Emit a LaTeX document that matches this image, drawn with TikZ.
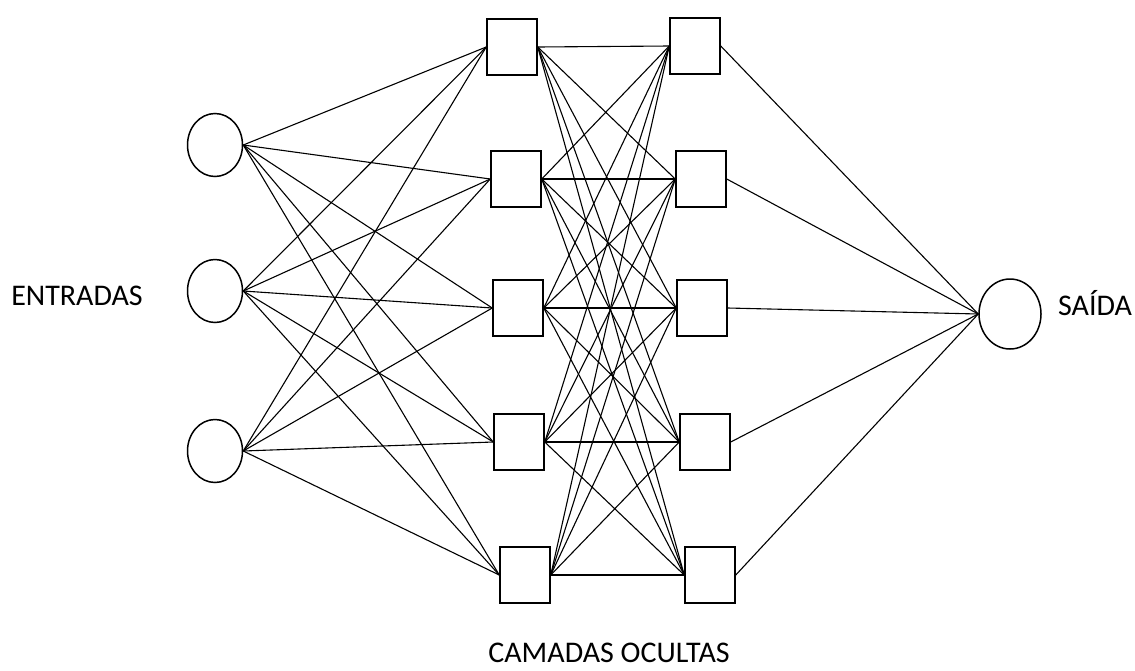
\documentclass[tikz,border=0pt]{standalone}
\usepackage{fontspec}
\setmainfont{Carlito}
\usetikzlibrary{shapes.geometric}

\begin{document}
\begin{tikzpicture}[x=1pt,y=-1pt,
	entrada/.style={ellipse,draw,line width=1.5pt,minimum width=55pt,minimum height=63pt,inner sep=0pt},
	oculto/.style={rectangle,draw,line width=1.5pt,minimum width=50pt,minimum height=56pt,inner sep=0pt},
	liga/.style={line width=1.1pt},
	rotulo/.style={font=\fontsize{30}{32}\selectfont,inner sep=0pt,anchor=base}]
	\useasboundingbox (0,0) rectangle (1135,670);

	% camada de entrada
	\node [entrada] (e1) at (215,145) {};
	\node [entrada] (e2) at (215,291) {};
	\node [entrada] (e3) at (215,451) {};

	% camadas ocultas
	\foreach \i/\x/\y in {1/512/47, 2/516/179, 3/518/308, 4/519/442, 5/525/575}
		\node [oculto] (a\i) at (\x,\y) {};
	\foreach \i/\x/\y in {1/695/46, 2/701/179, 3/702/308, 4/705/442, 5/710/575}
		\node [oculto] (b\i) at (\x,\y) {};

	% saida
	\node [entrada,minimum width=62pt,minimum height=70pt] (s) at (1010,314) {};

	% ligacoes
	\foreach \i in {1,2,3}
		\foreach \j in {1,...,5}
			\draw [liga] (e\i.east) -- (a\j.west);
	\foreach \i in {1,...,5}
		\foreach \j in {1,...,5}
			\draw [liga] (a\i.east) -- (b\j.west);
	\foreach \j in {1,...,5}
		\draw [liga] (b\j.east) -- (s.west);

	% rotulos
	\node [rotulo] (entradas) at (77,305) {ENTRADAS};
	\node [rotulo] (saida) at (1095,315) {SAÍDA};
	\node [rotulo] (camadas) at (609,662) {CAMADAS OCULTAS};
\end{tikzpicture}
\end{document}
